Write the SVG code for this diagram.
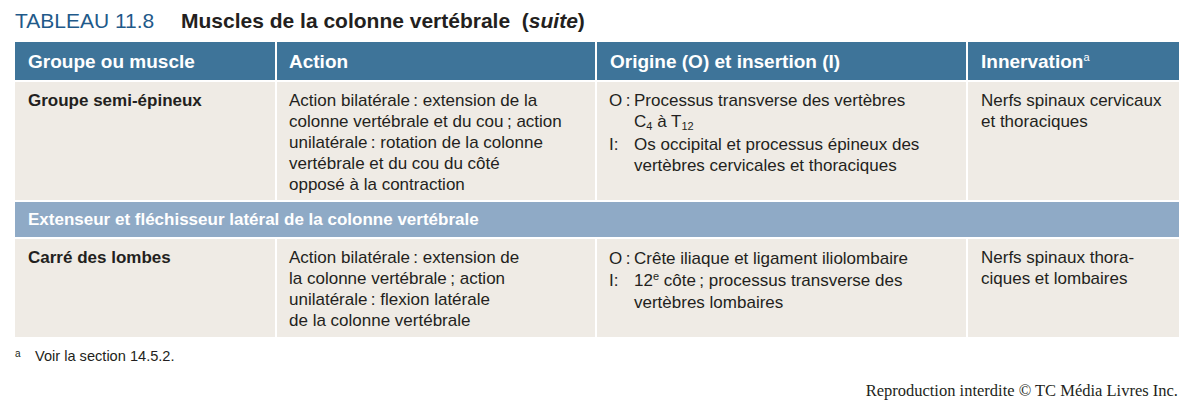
<svg xmlns="http://www.w3.org/2000/svg" width="1195" height="417" viewBox="0 0 1195 417">
<style>
text{font-family:"Liberation Sans",Arial,sans-serif;fill:#231F20}
.t{font-size:17px}
.b{font-size:17px;font-weight:bold}
.h{font-size:19px;font-weight:bold;fill:#ffffff}
.sh{font-size:17px;font-weight:bold;fill:#ffffff}
.hd{fill:#3E7499}
.sub{fill:#8FAAC6}
.cell{fill:#EFEBE5}
.sm{font-size:11px}
</style>
<rect width="1195" height="417" fill="#ffffff"/>
<g id="title">
<text x="15" y="28" style="font-size:21px;fill:#1F5A8A">TABLEAU 11.8</text>
<text x="181" y="28" style="font-size:21px;font-weight:bold">Muscles de la colonne vertébrale&#160; (<tspan font-style="italic">suite</tspan>)</text>
</g>
<g id="header">
<rect class="hd" x="15" y="42" width="260" height="38"/>
<rect class="hd" x="277" y="42" width="318" height="38"/>
<rect class="hd" x="597" y="42" width="369" height="38"/>
<rect class="hd" x="968" y="42" width="211" height="38"/>
<text class="h" x="28" y="68">Groupe ou muscle</text>
<text class="h" x="289" y="68">Action</text>
<text class="h" x="610" y="68">Origine (O) et insertion (I)</text>
<text class="h" x="981" y="68">Innervation<tspan class="sm" style="font-weight:normal" dy="-7">a</tspan></text>
</g>
<g id="row-semi-epineux">
<rect class="cell" x="15" y="82" width="260" height="118"/>
<rect class="cell" x="277" y="82" width="318" height="118"/>
<rect class="cell" x="597" y="82" width="369" height="118"/>
<rect class="cell" x="968" y="82" width="211" height="118"/>
<text class="b" x="28" y="106">Groupe semi-épineux</text>
<text class="t" x="289" y="106">Action bilatérale&#8201;: extension de la</text>
<text class="t" x="289" y="127">colonne vertébrale et du cou&#8201;; action</text>
<text class="t" x="289" y="148">unilatérale&#8201;: rotation de la colonne</text>
<text class="t" x="289" y="169">vertébrale et du cou du côté</text>
<text class="t" x="289" y="190">opposé à la contraction</text>
<text class="t" x="609" y="106">O&#8201;:</text>
<text class="t" x="634" y="106">Processus transverse des vertèbres</text>
<text class="t" x="634" y="127">C<tspan class="sm" dy="3">4</tspan><tspan dy="-3"> à T</tspan><tspan class="sm" dy="3">12</tspan></text>
<text class="t" x="609" y="150">I:</text>
<text class="t" x="634" y="150">Os occipital et processus épineux des</text>
<text class="t" x="634" y="171">vertèbres cervicales et thoraciques</text>
<text class="t" x="981" y="106">Nerfs spinaux cervicaux</text>
<text class="t" x="981" y="127">et thoraciques</text>
</g>
<g id="subheader">
<rect class="sub" x="15" y="202" width="1164" height="35"/>
<text class="sh" x="28" y="225">Extenseur et fléchisseur latéral de la colonne vertébrale</text>
</g>
<g id="row-carre-des-lombes">
<rect class="cell" x="15" y="239" width="260" height="98"/>
<rect class="cell" x="277" y="239" width="318" height="98"/>
<rect class="cell" x="597" y="239" width="369" height="98"/>
<rect class="cell" x="968" y="239" width="211" height="98"/>
<text class="b" x="28" y="263">Carré des lombes</text>
<text class="t" x="289" y="263">Action bilatérale&#8201;: extension de</text>
<text class="t" x="289" y="284">la colonne vertébrale&#8201;; action</text>
<text class="t" x="289" y="305">unilatérale&#8201;: flexion latérale</text>
<text class="t" x="289" y="326">de la colonne vertébrale</text>
<text class="t" x="609" y="264">O&#8201;:</text>
<text class="t" x="634" y="264">Crête iliaque et ligament iliolombaire</text>
<text class="t" x="609" y="286">I:</text>
<text class="t" x="634" y="286">12<tspan class="sm" dy="-6">e</tspan><tspan dy="6"> côte&#8201;; processus transverse des</tspan></text>
<text class="t" x="634" y="308">vertèbres lombaires</text>
<text class="t" x="981" y="263">Nerfs spinaux thora-</text>
<text class="t" x="981" y="284">ciques et lombaires</text>
</g>
<g id="connectors"></g>
<g id="footnote">
<text x="15" y="357" style="font-size:10px">a</text>
<text x="35" y="361" style="font-size:14.6px">Voir la section 14.5.2.</text>
</g>
<text x="1178" y="396" text-anchor="end" style="font-family:'Liberation Serif','Times New Roman',serif;font-size:16.5px;fill:#231F20">Reproduction interdite © TC Média Livres Inc.</text>
</svg>
